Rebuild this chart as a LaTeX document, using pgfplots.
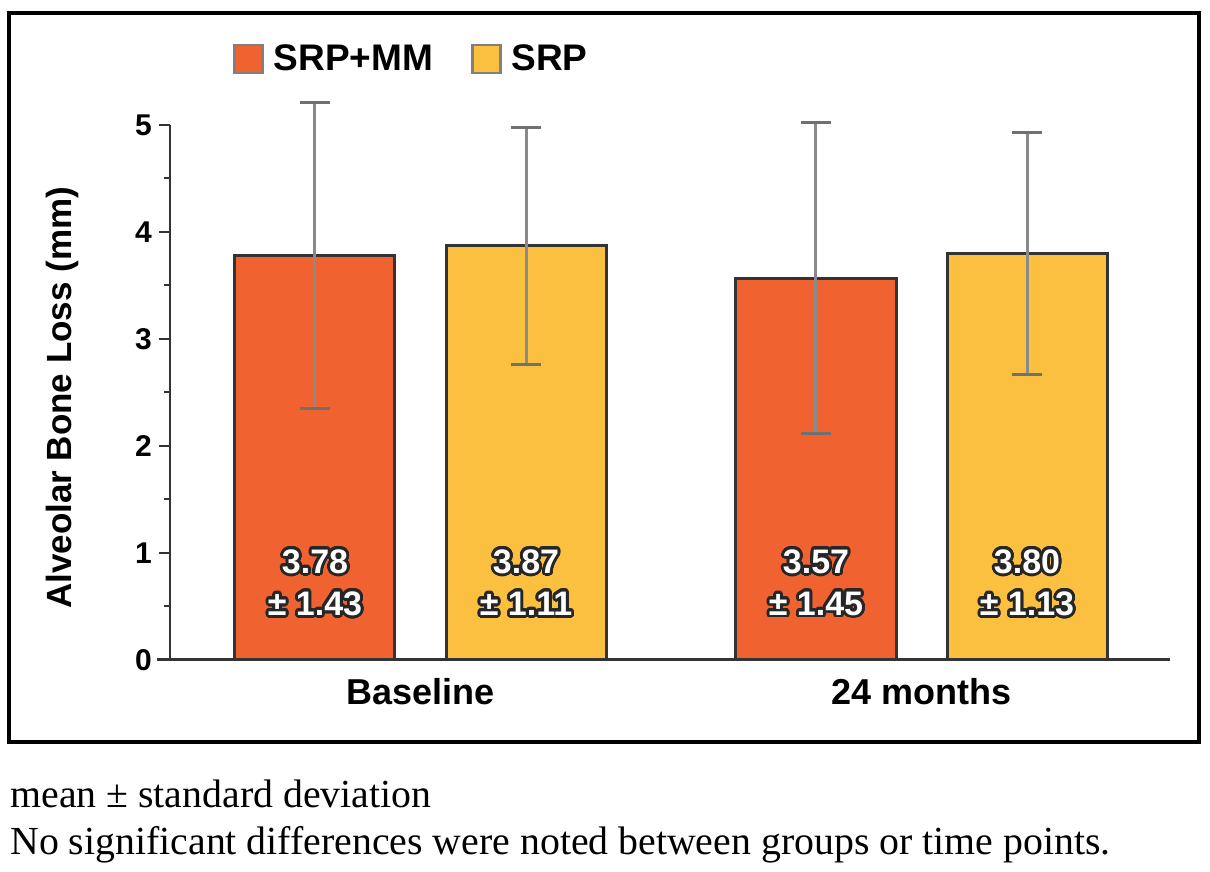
\documentclass[border=0pt]{standalone}
\usepackage{pgfplots}
\pgfplotsset{compat=1.18}
\usepackage{fontspec}
\setmainfont{Liberation Sans}
\newfontfamily\capfont{Liberation Serif}
\usepackage{contour}
\contourlength{1.4pt}
\contournumber{32}

\definecolor{srpmm}{HTML}{F06230}
\definecolor{srp}{HTML}{FBC040}
\definecolor{axisgray}{HTML}{333333}
\definecolor{errgray}{HTML}{8A8A8A}

\newcommand{\halo}[1]{\textcolor{white}{\contour{black!85}{#1}}}

\begin{document}
\begin{tikzpicture}
\useasboundingbox (0pt,0pt) rectangle (605pt,436pt);
\draw[line width=2pt] (4.5pt,65pt) rectangle (599.5pt,429.5pt);
\begin{axis}[
    at={(85pt,106pt)}, anchor=south west,
    scale only axis, width=500pt, height=267.5pt,
    xmin=-0.5, xmax=1.496, ymin=0, ymax=5,
    clip=false,
    axis x line*=bottom, axis y line*=left,
    x axis line style={line width=1.5pt, color=axisgray, shorten <=-6.5pt},
    y axis line style={line width=1pt, color=axisgray},
    xtick={0,1}, xticklabels={Baseline,24 months},
    xtick style={draw=none},
    ytick={0,1,2,3,4,5}, minor ytick={0.5,1.5,2.5,3.5,4.5},
    ytick style={line width=1pt, color=axisgray},
    tick align=outside,
    major tick length=5.5pt, minor tick length=3pt,
    /pgf/number format/assume math mode=true,
    xticklabel style={font=\bfseries\fontsize{18}{22}\selectfont},
    yticklabel style={font=\bfseries\fontsize{15}{18}\selectfont},
    ylabel={Alveolar Bone Loss (mm)},
    every axis y label/.style={at={(axis description cs:-0.108,0.49)}, rotate=90, anchor=center,
        font=\bfseries\fontsize{17.5}{21}\selectfont},
    legend style={at={(axis description cs:0.063,1.123)}, anchor=west, draw=none, fill=none,
        font=\bfseries\fontsize{18.5}{22}\selectfont, legend columns=-1, inner sep=0pt,
        /tikz/every odd column/.append style={column sep=3pt},
        /tikz/every even column/.append style={column sep=17pt}},
    error bars/y dir=both, error bars/y explicit,
    error bars/error bar style={line width=1.5pt, color=errgray},
    error bars/error mark=|,
    error bars/error mark options={mark size=7.5pt, line width=1.5pt, color=axisgray!70},
  ]
  % bars at their centres: group at 0 and 1, each bar 0.2106 to either side
  \addplot[ybar, bar width=80pt, bar shift=0pt, fill=srpmm, draw=axisgray, line width=1.5pt,
      legend image code/.code={\draw[fill=srpmm, draw=gray, line width=1.2pt] (0pt,-7pt) rectangle (14pt,7pt);}]
    coordinates {(-0.2106,3.78) +- (0,1.43) (0.7894,3.57) +- (0,1.45)};
  \addplot[ybar, bar width=80pt, bar shift=0pt, fill=srp, draw=axisgray, line width=1.5pt,
      legend image code/.code={\draw[fill=srp, draw=gray, line width=1.2pt] (0pt,-7pt) rectangle (14pt,7pt);}]
    coordinates {(0.2106,3.87) +- (0,1.11) (1.2106,3.80) +- (0,1.13)};
  \legend{SRP+MM,SRP}

  % value labels inside the bars
  \addplot[forget plot, draw=none, mark=none, point meta=explicit,
      nodes near coords={\halo{\pgfmathprintnumber[fixed,fixed zerofill,precision=2]{\pgfplotspointmeta}}},
      nodes near coords style={anchor=center, font=\bfseries\fontsize{17}{20}\selectfont}]
    coordinates {(-0.2106,0.907) [3.78] (0.7894,0.907) [3.57] (0.2106,0.907) [3.87] (1.2106,0.907) [3.80]};
  \addplot[forget plot, draw=none, mark=none, point meta=explicit,
      nodes near coords={\halo{± \pgfmathprintnumber[fixed,fixed zerofill,precision=2]{\pgfplotspointmeta}}},
      nodes near coords style={anchor=center, font=\bfseries\fontsize{17}{20}\selectfont}]
    coordinates {(-0.2106,0.514) [1.43] (0.7894,0.514) [1.45] (0.2106,0.514) [1.11] (1.2106,0.514) [1.13]};
\end{axis}
\node[anchor=base west, inner sep=0pt, font=\capfont\fontsize{19.9}{23}\selectfont] at (5pt,32pt) {mean ± standard deviation};
\node[anchor=base west, inner sep=0pt, font=\capfont\fontsize{19.9}{23}\selectfont] at (5pt,8.5pt) {No significant differences were noted between groups or time points.};
\end{tikzpicture}
\end{document}
